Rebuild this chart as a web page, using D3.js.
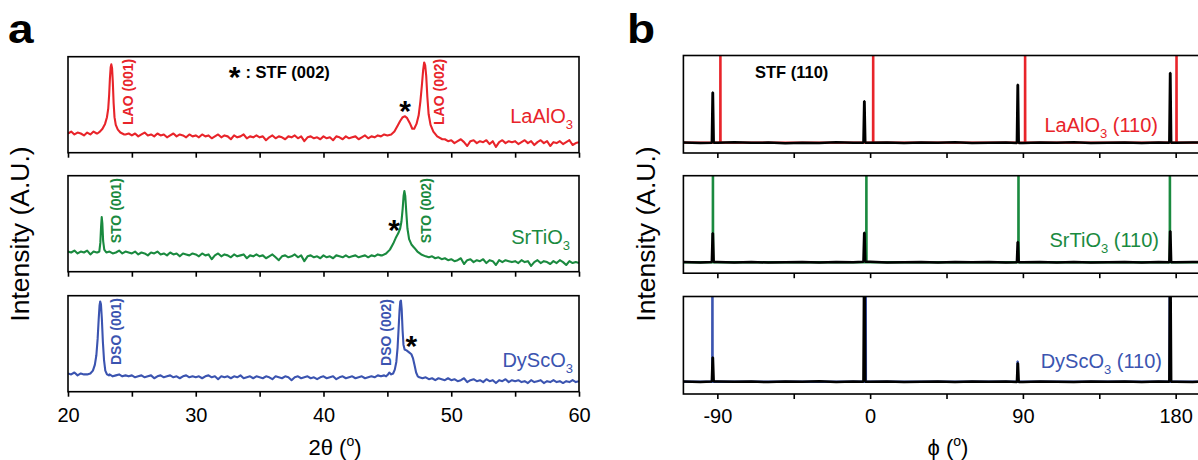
<!DOCTYPE html>
<html>
<head>
<meta charset="utf-8">
<script src="https://cdn.jsdelivr.net/npm/d3@7"></script>
<style>
  body { margin: 0; background: #fff; }
  svg { display: block; font-family: "Liberation Sans", Arial, Helvetica, sans-serif; }
</style>
</head>
<body>
<script>
// ---- data -----------------------------------------------------------
// panel a: 2theta scans, intensity in % of panel height
const twoThetaTicks = [20, 25, 30, 35, 40, 45, 50, 55, 60];
const twoThetaLabels = [20, 30, 40, 50, 60];
const scanStart = 20, scanStep = 0.25;

const laoBase = [
  20,22,19,21,20,18,21,19,22,20,19,21,18,20,21,19,20,18,19,20,
  18,20,17,19,21,18,19,17,20,18,19,16,18,20,17,19,18,16,19,17,
  18,16,19,17,18,15,17,19,16,18,17,14,18,16,17,19,15,17,16,18,
  16,17,13,16,18,15,17,16,14,17,16,18,15,17,12,16,17,15,16,14,
  17,15,16,13,17,16,14,17,15,16,17,14,16,18,15,17,16,18,17,19,
  18,19,20,21,27,33,37,38,36,30,25,27,45,80,92,70,35,22,14,12,
  13,10,12,14,11,7,12,13,10,12,11,13,9,12,6,11,13,10,12,11,
  12,9,11,13,10,12,8,11,13,10,12,7,11,10,12,9,11,13,8,10,
  11
];
const stoBase = [
  21,20,22,19,21,20,22,18,21,20,21,19,20,21,19,20,22,19,21,20,
  19,21,18,20,19,17,20,19,21,18,19,17,20,18,19,16,19,18,17,19,
  18,16,19,17,18,13,17,19,16,18,17,15,18,16,17,18,14,17,16,18,
  16,17,14,16,18,15,12,16,17,15,16,18,15,17,11,16,17,15,16,14,
  17,15,16,14,17,16,15,17,15,16,17,15,16,17,15,17,16,18,17,17,
  19,21,25,31,37,45,70,55,32,26,22,19,16,15,16,14,15,13,14,12,
  13,11,12,14,8,12,13,10,12,11,13,9,12,11,7,12,10,12,11,10,
  11,9,12,10,11,6,10,12,9,11,10,8,11,9,12,10,7,11,9,10,
  9
];
const dsoBase = [
  19,18,20,17,19,18,20,18,19,17,18,19,17,18,16,17,18,16,17,16,
  17,15,16,17,15,16,17,14,16,17,15,16,17,15,16,14,16,17,15,16,
  15,16,14,16,17,15,16,13,16,15,16,14,16,15,17,14,15,16,14,16,
  15,14,16,15,13,16,15,14,16,15,12,15,16,14,15,16,14,15,13,15,
  16,14,15,16,13,15,16,14,15,16,14,15,16,14,15,16,15,17,16,17,
  16,18,19,30,90,45,41,38,25,15,15,14,15,13,14,12,14,13,12,14,
  12,13,11,12,14,10,12,13,11,12,10,13,11,12,9,12,11,13,10,12,
  11,12,10,11,9,12,10,11,12,9,11,10,12,10,11,9,11,10,12,10,
  11
];

const laoPeak001 = [[22.3,20],[22.5,22],[22.7,25],[22.9,30],[23.05,37],[23.15,46],[23.22,60],[23.28,77],[23.34,89],[23.39,92],[23.45,88],[23.51,73],[23.57,52],[23.64,37],[23.74,29],[23.9,24],[24.1,21],[24.4,19]];
const laoPeak002 = [[45.0,18],[45.3,19],[45.55,22],[45.8,28],[46.0,33],[46.2,37],[46.38,38],[46.55,36],[46.75,31],[46.95,25],[47.1,25],[47.28,30],[47.45,39],[47.58,53],[47.7,70],[47.8,86],[47.88,94],[47.96,91],[48.04,80],[48.13,58],[48.23,40],[48.38,29],[48.6,22],[48.9,17],[49.3,14]];
const stoPeak001 = [[22.3,20],[22.45,21],[22.53,30],[22.59,47],[22.64,57],[22.69,50],[22.75,32],[22.84,23],[23.0,20]];
const stoPeak002 = [[44.6,17],[44.9,19],[45.2,23],[45.45,29],[45.65,35],[45.85,40],[46.0,45],[46.1,52],[46.2,66],[46.27,79],[46.33,84],[46.4,79],[46.48,62],[46.57,45],[46.7,34],[46.9,28],[47.1,25],[47.35,21],[47.65,18],[48.0,16]];
const dsoPeak001 = [[21.5,18],[21.75,19],[21.95,22],[22.1,28],[22.22,38],[22.32,55],[22.4,75],[22.47,90],[22.52,94],[22.58,91],[22.65,76],[22.73,52],[22.82,33],[22.92,22],[23.05,18],[23.2,17]];
const dsoPeak002 = [[44.9,16],[45.05,18],[45.15,20],[45.3,18],[45.45,19],[45.58,23],[45.7,31],[45.8,46],[45.88,66],[45.95,84],[46.01,94],[46.06,95],[46.12,86],[46.19,64],[46.26,49],[46.35,44],[46.5,43],[46.7,41],[46.88,39],[47.0,35],[47.12,28],[47.25,20],[47.38,16],[47.5,15]];

// panel b: phi scans
const phiTicks = [-90, -45, 0, 45, 90, 135, 180, 225];
const phiLabels = [-90, 0, 90, 180];
const phiStart = -110, phiStep = 10;

const stfPhi = [-92.7, -3.4, 87.0, 176.8];
const stfOnLao = [62, 53, 70, 82];
const stfOnSto = [41, 41.5, 32, 43];
const stfOnDso = [37.5, 150, 31.5, 150];

const laoPhi = [-88.2, 1.8, 91.3, 180.5];
const laoSpike = [150, 150, 150, 150];
const stoPhi = [-92.6, -2.2, 87.4, 176.6];
const stoSpike = [150, 150, 150, 150];
const dsoPhi = [-92.9, -2.6, 86.9, 176.5];
const dsoSpike = [150, 150, 33.5, 150];

const bBaseLao = [10.8,10.2,10.6,11.0,10.4,10.7,10.1,10.6,10.3,10.9,10.4,10.6,10.8,10.2,10.7,10.4,11.0,10.3,10.6,10.8,10.2,10.7,10.4,10.9,10.3,10.6,10.8,10.2,10.7,10.4,10.8,10.3,10.6,10.7,10.2,10.5,10.6];
const bBaseSto = [11.4,11.0,11.6,11.1,11.5,10.9,11.3,11.6,11.0,11.4,11.2,11.7,11.1,11.3,11.5,10.9,11.4,11.2,11.6,11.0,11.3,11.5,11.1,11.4,10.9,11.3,11.6,11.0,11.4,11.2,11.5,11.1,11.3,11.6,11.0,11.2,11.4];
const bBaseDso = [12.8,12.4,12.9,12.5,12.7,12.2,12.8,12.6,13.0,12.4,12.7,12.5,12.9,12.3,12.6,12.8,12.4,12.7,12.5,12.9,12.3,12.8,12.6,12.4,12.9,12.5,12.7,12.3,12.8,12.6,12.4,12.7,12.9,12.5,12.6,12.8,12.4];
const subLevels = [10.6, 11.3, 12.6];

// ---- layout ---------------------------------------------------------
const WIDTH = 1198, HEIGHT = 460;
const RED = "#e8242a", GREEN = "#1a8a3f", BLUE = "#3b54b0";
const A = { left: 68, right: 579, tops: [56.7, 175.7, 295.7], h: 96 };
const B = { left: 683.4, right: 1294.5, tops: [55.5, 175.7, 296.5], h: 97.5 };

const svg = d3.select("body").append("svg")
  .attr("width", WIDTH).attr("height", HEIGHT)
  .attr("viewBox", `0 0 ${WIDTH} ${HEIGHT}`);
const defs = svg.append("defs");

const x2t = d3.scaleLinear().domain([20, 60]).range([A.left, A.right]);
const xPhi = d3.scaleLinear().domain([-110, 250]).range([B.left, B.right]);

// merge the coarse baseline with the detailed peak points
function assemble(base, peaks) {
  const pts = [];
  base.forEach((v, i) => {
    const t = scanStart + i * scanStep;
    if (!peaks.some(p => t >= p[0][0] && t <= p[p.length - 1][0])) pts.push([t, v]);
  });
  peaks.forEach(p => pts.push(...p));
  return pts.sort((a, b) => a[0] - b[0]);
}

function spikes(baseline, phis, heights, w, t) {
  const pts = baseline.slice();
  phis.forEach((p, k) => {
    const b = baseline.reduce((a, c) => Math.abs(c[0] - p) < Math.abs(a[0] - p) ? c : a)[1];
    pts.push([p - w, b], [p - t, heights[k]], [p + t, heights[k]], [p + w, b]);
  });
  return pts.sort((a, b) => a[0] - b[0]);
}

function clip(x0, x1, top, h, id) {
  defs.append("clipPath").attr("id", id).append("rect")
    .attr("x", x0).attr("y", top).attr("width", x1 - x0).attr("height", h);
}

function ticks(g, scale, values, labels, y, pad) {
  const ax = d3.axisBottom(scale).tickValues(values).tickSize(5).tickSizeOuter(0)
    .tickPadding(pad).tickFormat(d => labels.includes(d) ? d : "");
  g.append("g").attr("transform", `translate(0,${y})`).call(ax)
    .call(s => s.select(".domain").remove())
    .call(s => s.selectAll("line").attr("stroke", "#000").attr("stroke-width", 1.6))
    .call(s => s.selectAll("text").attr("font-size", 20).attr("fill", "#000")
      .attr("font-family", '"Liberation Sans", Arial, sans-serif'));
}

function subName(g, x, y, parts, color) {
  const t = g.append("text").attr("x", x).attr("y", y).attr("text-anchor", "end")
    .attr("font-size", 20).attr("fill", color);
  t.append("tspan").text(parts[0]);
  t.append("tspan").attr("font-size", 13).attr("dy", 6).text(parts[1]);
  if (parts[2]) t.append("tspan").attr("dy", -6).text(parts[2]);
}

function star(g, x, y) {
  g.append("text").attr("x", x).attr("y", y + 13).attr("text-anchor", "middle")
    .attr("font-size", 30).attr("font-weight", "bold").attr("fill", "#000").text("*");
}

// ---- panel a --------------------------------------------------------
const rowsA = [
  { base: laoBase, peaks: [laoPeak001, laoPeak002], color: RED, name: ["LaAlO", "3"], nameEnd: 573, nameY: 123.3,
    tags: [["LAO (001)", 25.09, 28.9], ["LAO (002)", 49.47, 28.9]], star: [46.38, 46.6] },
  { base: stoBase, peaks: [stoPeak001, stoPeak002], color: GREEN, name: ["SrTiO", "3"], nameEnd: 570, nameY: 244.3,
    tags: [["STO (001)", 24.11, 29.6], ["STO (002)", 48.42, 29.6]], star: [45.52, 46.6] },
  { base: dsoBase, peaks: [dsoPeak001, dsoPeak002], color: BLUE, name: ["DyScO", "3"], nameEnd: 573, nameY: 367.3,
    tags: [["DSO (001)", 24.11, 27.8], ["DSO (002)", 45.28, 26.8]], star: [46.88, 50.4] }
];

rowsA.forEach((r, i) => {
  const top = A.tops[i];
  const y = d3.scaleLinear().domain([0, 100]).range([top + A.h, top]);
  const g = svg.append("g").classed("row-a", true);
  clip(A.left, A.right, top, A.h, `clipA${i}`);

  g.append("path")
    .datum(assemble(r.base, r.peaks))
    .attr("clip-path", `url(#clipA${i})`)
    .attr("fill", "none").attr("stroke", r.color).attr("stroke-width", 2.1)
    .attr("stroke-linejoin", "round")
    .attr("d", d3.line().x(d => x2t(d[0])).y(d => y(d[1])));

  g.append("rect").attr("x", A.left).attr("y", top).attr("width", A.right - A.left).attr("height", A.h)
    .attr("fill", "none").attr("stroke", "#000").attr("stroke-width", 1.6);

  ticks(g, x2t, twoThetaTicks, i === 2 ? twoThetaLabels : [], top + A.h, 10.8);

  r.tags.forEach(([txt, tx, ty]) => {
    g.append("text").attr("transform", `translate(${x2t(tx)},${y(ty)}) rotate(-90)`)
      .attr("font-size", 14).attr("font-weight", "bold").attr("fill", r.color).text(txt);
  });
  star(g, x2t(r.star[0]), y(r.star[1]));
  subName(g, r.nameEnd, r.nameY, r.name, r.color);
});

// legend of panel a
star(svg, 234.5, 73.5);
svg.append("text").attr("x", 245.5).attr("y", 78.3).attr("font-size", 16.5).attr("font-weight", "bold")
  .text(": STF (002)");

// ---- panel b --------------------------------------------------------
const rowsB = [
  { sPhi: laoPhi, sH: laoSpike, bBase: bBaseLao, bH: stfOnLao, color: RED,
    name: ["LaAlO", "3", "\u00a0(110)"], nameEnd: 1158, nameY: 131.7 },
  { sPhi: stoPhi, sH: stoSpike, bBase: bBaseSto, bH: stfOnSto, color: GREEN,
    name: ["SrTiO", "3", "\u00a0(110)"], nameEnd: 1159, nameY: 247.3 },
  { sPhi: dsoPhi, sH: dsoSpike, bBase: bBaseDso, bH: stfOnDso, color: BLUE,
    name: ["DyScO", "3", "\u00a0(110)"], nameEnd: 1162, nameY: 368.3 }
];

rowsB.forEach((r, i) => {
  const top = B.tops[i];
  const y = d3.scaleLinear().domain([0, 100]).range([top + B.h, top]);
  const g = svg.append("g").classed("row-b", true);
  clip(B.left, B.right, top, B.h, `clipB${i}`);
  const line = d3.line().x(d => xPhi(d[0])).y(d => y(d[1]));

  const subBase = [[-110, subLevels[i]], [250, subLevels[i]]];
  g.append("path")
    .datum(spikes(subBase, r.sPhi, r.sH, 0.1, 0.03))
    .attr("clip-path", `url(#clipB${i})`)
    .attr("fill", "none").attr("stroke", r.color).attr("stroke-width", 2.4)
    .attr("stroke-linejoin", "bevel")
    .attr("d", line);

  const blackBase = r.bBase.map((v, k) => [phiStart + k * phiStep, v]);
  g.append("path")
    .datum(spikes(blackBase, stfPhi, r.bH, 0.55, 0.1))
    .attr("clip-path", `url(#clipB${i})`)
    .attr("fill", "none").attr("stroke", "#000").attr("stroke-width", 2.5)
    .attr("stroke-linejoin", "bevel")
    .attr("d", line);

  g.append("rect").attr("x", B.left).attr("y", top).attr("width", B.right - B.left).attr("height", B.h)
    .attr("fill", "none").attr("stroke", "#000").attr("stroke-width", 1.6);

  ticks(g, xPhi, phiTicks, i === 2 ? phiLabels : [], top + B.h, 9.8);
  subName(g, r.nameEnd, r.nameY, r.name, r.color);
});

svg.append("text").attr("x", 755).attr("y", 78.3).attr("font-size", 16.5).attr("font-weight", "bold")
  .text("STF (110)");

// ---- axis titles and panel letters ----------------------------------
function yTitle(x, yc) {
  svg.append("text").attr("transform", `translate(${x},${yc}) rotate(-90)`)
    .attr("text-anchor", "middle").attr("font-size", 26.5).text("Intensity (A.U.)");
}
yTitle(29, 234);
yTitle(655, 234);

function xTitle(xc, sym) {
  const t = svg.append("text").attr("x", xc).attr("y", 455).attr("text-anchor", "middle").attr("font-size", 22);
  t.append("tspan").text(sym + " (");
  t.append("tspan").attr("font-size", 14).attr("dy", -9).text("o");
  t.append("tspan").attr("dy", 9).text(")");
}
xTitle(335, "2\u03b8");
xTitle(948, "\u03d5");

[["a", 8], ["b", 627]].forEach(([l, x]) => {
  svg.append("text").attr("transform", `translate(${x},43) scale(1.15,1)`)
    .attr("font-size", 40).attr("font-weight", "bold").text(l);
});
</script>
</body>
</html>
